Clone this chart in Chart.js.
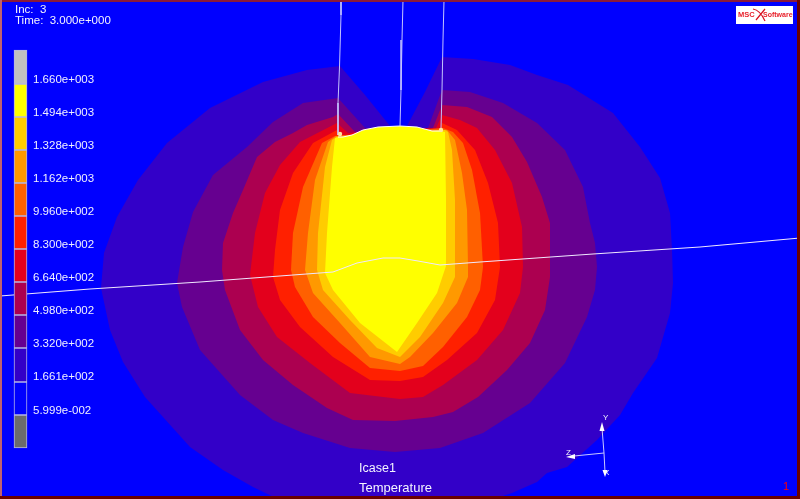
<!DOCTYPE html>
<html><head><meta charset="utf-8">
<style>html,body{margin:0;padding:0;background:#00f;overflow:hidden}canvas{display:block}</style>
<script src="https://cdn.jsdelivr.net/npm/chart.js@4/dist/chart.umd.min.js"></script>
</head><body>
<canvas id="c" width="800" height="499"></canvas>
<script>
// Contour bands, as x,y pairs, outermost first
const band166=[340,66,365,95,390,126,407,126,425,92,442,57,473,59,510,65,537,75,568,85,613,113,640,147,660,178,670,213,672,250,673,283,670,313,657,358,633,393,620,415,597,440,567,467,547,473,537,482,512,493,490,500,280,500,253,487,223,470,190,447,145,397,123,362,110,330,101,288,104,253,117,217,138,180,167,143,210,108,263,82,307,70];
const band332=[338,98,365,128,428,128,442,90,470,92,503,103,537,123,565,150,583,187,590,223,595,243,597,267,595,290,587,317,565,363,530,403,483,433,440,448,395,452,350,448,303,433,273,420,240,395,200,350,182,307,177,283,183,247,193,212,213,175,247,147,273,122,303,103];
const band498=[338,114,355,132,433,128,442,105,467,107,492,117,512,137,527,162,542,197,550,223,550,277,545,310,530,343,507,370,478,397,453,412,433,417,395,421,353,420,327,408,293,385,263,360,240,330,225,290,222,270,223,243,233,213,243,190,257,157,275,142,293,133,307,125,333,117];
const band664=[337,123,348,133,436,128,442,115,460,120,477,128,495,150,512,183,522,227,523,267,520,293,503,330,477,360,443,385,423,397,400,399,350,393,310,363,277,337,258,307,250,275,255,233,265,193,280,165,300,142];
const band830=[337,130,342,135,440,131,442,123,457,130,475,150,488,183,498,223,500,267,495,300,477,333,447,360,423,377,400,381,370,380,333,357,300,327,280,300,273,277,275,250,280,210,293,173,313,143];
const band996=[322,143,335,136,443,128,453,132,463,143,472,170,480,213,483,267,480,290,467,317,443,347,423,366,400,371,370,368,340,343,313,317,295,287,291,270,293,233,303,187];
const band1162=[328,142,336,136,447,130,455,140,462,173,467,210,468,267,468,277,457,303,433,333,410,357,400,364,370,357,340,323,313,293,305,270,308,233,315,180];
const band1328=[332,140,337,137,445,130,448,132,452,150,455,200,455,277,443,303,420,337,400,357,377,348,350,320,323,290,317,270,318,233,325,167];
const band1494=[335,138,338,137,343,137,352,135,363,130,378,127,400,126,417,127,432,131,440,131,445,132,446,200,446,266,437,293,417,323,397,352,360,323,333,290,325,273,327,233,332,167];
// Colour-bar
const barEdges=[50,84,117,150,183,216,249,282,315,348,382,415,448];
const barColors=['#c0c0c0','#ffff00','#ffcc00','#ff9900','#ff6000','#ff2000','#e3001c','#ac0050','#660090','#3300c8','#0000ff','#6c6c6c'];
const tickPositions=[79.7,113,146,179,212,245,278,311,344,377,410.5];
const tickLabels=['1.660e+003','1.494e+003','1.328e+003','1.162e+003','9.960e+002','8.300e+002','6.640e+002','4.980e+002','3.320e+002','1.661e+002','5.999e-002'];
// Mesh outlines
const toolLeft=[341,0,341,15,339.5,67,338,103,338,135];
const toolMid=[403,0,402,40,401,90,400,126];
const toolRight=[444,0,443,40,442,90,441,128];
const surface=[338,137,343,137,352,135,363,130,378,127,400,126,417,127,432,131,440,131];
const section=[0,296,90,289,200,282,333,272,357,263,383,258,400,258,418,261,440,265,480,262,593,254,700,247,800,238];
const hotSpots=[340,134,441,130];
// Axis triad
const triadY=[604,453,602,428];
const triadZ=[604,453,574,456];
const triadX=[604,453,605,472];
const headY=[602,422,599.5,431,604.5,431];
const headZ=[566,457,575,454,575,459];
const headX=[605,477,602.5,470,607.5,470];

const pts=a=>{const o=[];for(let i=0;i<a.length;i+=2)o.push({x:a[i],y:a[i+1]});return o;};
const area=(a,c,ord)=>({type:'scatter',data:pts(a),showLine:true,fill:'shape',backgroundColor:c,borderColor:c,borderWidth:0,pointRadius:0,tension:0,order:ord});
const line=(a,c,w,ord)=>({type:'scatter',data:pts(a),showLine:true,fill:false,borderColor:c,borderWidth:w,pointRadius:0,tension:0,order:ord});

const frame={id:'frame',
 beforeDraw(ch){const x=ch.ctx;x.fillStyle='#0000ff';x.fillRect(0,0,800,499);},
 afterDraw(ch){const x=ch.ctx;x.save();
  x.fillStyle='#8a1a3a';x.fillRect(0,0,800,2);
  x.fillStyle='#c06070';x.fillRect(0,0,2,499);
  x.fillStyle='#6a0000';x.fillRect(797,0,3,499);x.fillRect(0,496,800,3);
  x.textBaseline='middle';x.textAlign='left';x.fillStyle='#f4f4ff';
  x.font='11.5px "Liberation Sans"';
  x.fillText('Inc:  3',15,10);
  x.fillText('Time:  3.000e+000',15,21);
  x.font='12.5px "Liberation Sans"';
  x.fillText('Icase1',359,469);
  x.font='13px "Liberation Sans"';
  x.fillText('Temperature',359,488);
  x.font='8px "Liberation Sans"';
  x.fillText('Y',603,418);x.fillText('Z',566,453);x.fillText('X',604,473);
  x.fillStyle='#ff0000';x.font='11px "Liberation Sans"';x.fillText('1',783,487);
  x.fillStyle='#ffffff';x.fillRect(736,6,57,18);
  x.fillStyle='#e8202a';x.font='bold 7.5px "Liberation Sans"';
  x.fillText('MSC',738,15);x.font='bold 7px "Liberation Sans"';x.fillText('Software',763,15.5);
  x.strokeStyle='#d81020';x.lineWidth=1.2;x.beginPath();x.moveTo(756,20);x.lineTo(765,9);x.moveTo(753,9);x.quadraticCurveTo(760,10,765,21);x.stroke();
  x.restore();}
};

new Chart(document.getElementById('c'),{
 type:'scatter',
 data:{datasets:[
  area(band166,'#3300c8',30),area(band332,'#660090',29),area(band498,'#ac0050',28),
  area(band664,'#e3001c',27),area(band830,'#ff2000',26),area(band996,'#ff6000',25),
  area(band1162,'#ff9900',24),area(band1328,'#ffcc00',23),area(band1494,'#ffff00',22),
  line(toolLeft,'#c4c4ff',1,10),line(toolMid,'#c4c4ff',1,10),line(toolRight,'#c4c4ff',1,10),
  line(surface,'#ffffff',1,10),line(section,'#f0e8ff',1,10),
  {type:'scatter',data:pts(hotSpots),showLine:false,pointRadius:2.2,pointBorderWidth:0,pointBackgroundColor:'#ffe6a0',order:9},
  line(triadY,'#c8c8ff',1,8),line(triadZ,'#c8c8ff',1,8),line(triadX,'#c8c8ff',1,8),
  area(headY,'#ffffff',7),area(headZ,'#ffffff',7),area(headX,'#ffffff',7),
  {type:'bar',data:barColors.map((c,i)=>({x:20.5,y:[barEdges[i],barEdges[i+1]]})),
   backgroundColor:barColors,borderColor:'#b4b4e6',borderWidth:1,borderSkipped:false,barThickness:13,grouped:false,order:1}
 ]},
 options:{responsive:false,animation:false,layout:{padding:0,autoPadding:false},
  plugins:{legend:{display:false},tooltip:{enabled:false},title:{display:false}},
  scales:{
   x:{type:'linear',display:false,min:0,max:800,offset:false},
   y:{type:'linear',position:'left',min:0,max:499,reverse:true,
      grid:{display:false,drawTicks:false},border:{display:false},
      afterBuildTicks(s){s.ticks=tickPositions.map(v=>({value:v}));},
      afterFit(s){s.width=0;s.paddingTop=0;s.paddingBottom=0;s.paddingLeft=0;s.paddingRight=0;},
      ticks:{mirror:true,padding:33,autoSkip:false,color:'#f0f0ff',font:{family:'"Liberation Sans"',size:11.5},
             callback:(v)=>tickLabels[tickPositions.indexOf(v)]}}
  }},
 plugins:[frame]
});
</script>
</body></html>
